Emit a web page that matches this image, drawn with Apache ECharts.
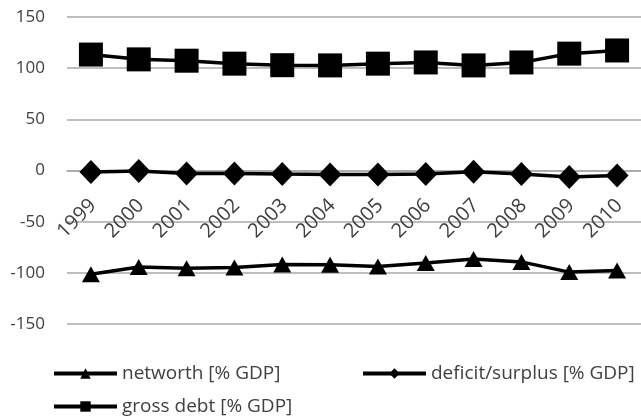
<!DOCTYPE html>
<html>
<head>
<meta charset="utf-8">
<script src="https://cdn.jsdelivr.net/npm/echarts@6/dist/echarts.min.js"></script>
<style>
  html, body { margin: 0; padding: 0; background: #ffffff; }
  #chart { width: 641px; height: 417px; }
</style>
</head>
<body>
<div id="chart"></div>
<script>
// Fiscal indicators, 1999-2010, in percent of GDP
const years = ['1999', '2000', '2001', '2002', '2003', '2004', '2005', '2006', '2007', '2008', '2009', '2010'];
const networth = [-101.3, -94.4, -95.4, -94.8, -91.9, -92.2, -93.8, -90.3, -86.4, -89.3, -99.3, -97.7];
const deficitSurplus = [-1.5, -0.5, -3.0, -3.0, -3.5, -3.8, -3.9, -3.5, -1.3, -3.5, -6.3, -4.8];
const grossDebt = [113.3, 108.6, 107.3, 104.4, 102.9, 102.7, 104.4, 105.6, 102.7, 105.6, 114.2, 117.3];

const seriesNames = ['networth [% GDP]', 'deficit/surplus [% GDP]', 'gross debt [% GDP]'];

const FONT = '"Open Sans", "Noto Sans", sans-serif';
const TEXT = '#404040';
const GRID = '#a8a8a8';

// plot area: 300 units over 307 px, zero line sits half-way
const PLOT_TOP = 17;
const PLOT_HEIGHT = 307;

function legendAt(name, left, top) {
  return {
    data: [name],
    left: left,
    top: top,
    padding: 0,
    itemWidth: 63,
    itemHeight: 13,
    itemGap: 6,
    lineStyle: { width: 4 },
    textStyle: { fontFamily: FONT, fontSize: 19, color: TEXT }
  };
}

const chart = echarts.init(document.getElementById('chart'), null, { renderer: 'canvas' });

chart.setOption({
  animation: false,
  backgroundColor: '#ffffff',
  grid: { left: 67, top: PLOT_TOP, width: 588, height: PLOT_HEIGHT, containLabel: false },
  legend: [
    legendAt(seriesNames[0], 52, 364),
    legendAt(seriesNames[1], 361, 364),
    legendAt(seriesNames[2], 52, 397)
  ],
  xAxis: {
    type: 'category',
    data: years,
    boundaryGap: true,
    position: 'bottom',
    // category axis crosses the value axis at 0
    offset: -PLOT_HEIGHT / 2,
    axisLine: { onZero: false, lineStyle: { color: GRID, width: 1.5 } },
    axisTick: { show: false },
    axisLabel: {
      rotate: 45,
      margin: 34,
      interval: 0,
      padding: [0, -3, 0, 0],
      fontFamily: FONT,
      fontSize: 20,
      color: TEXT
    },
    splitLine: { show: false }
  },
  yAxis: {
    type: 'value',
    min: -150,
    max: 150,
    interval: 50,
    axisLine: { show: false },
    axisTick: { show: false },
    axisLabel: { margin: 22, fontFamily: FONT, fontSize: 17, color: TEXT },
    splitLine: { lineStyle: { color: GRID, width: 1.5 } }
  },
  series: [
    {
      name: seriesNames[0],
      type: 'line',
      data: networth,
      symbol: 'triangle',
      symbolSize: [18, 16],
      color: '#000000',
      lineStyle: { color: '#000000', width: 3.5 },
      itemStyle: { color: '#000000' }
    },
    {
      name: seriesNames[1],
      type: 'line',
      data: deficitSurplus,
      symbol: 'diamond',
      symbolSize: [23, 24],
      color: '#000000',
      lineStyle: { color: '#000000', width: 3.5 },
      itemStyle: { color: '#000000' }
    },
    {
      name: seriesNames[2],
      type: 'line',
      data: grossDebt,
      symbol: 'rect',
      symbolSize: 24,
      color: '#000000',
      lineStyle: { color: '#000000', width: 3.5 },
      itemStyle: { color: '#000000' }
    }
  ]
});
</script>
</body>
</html>
